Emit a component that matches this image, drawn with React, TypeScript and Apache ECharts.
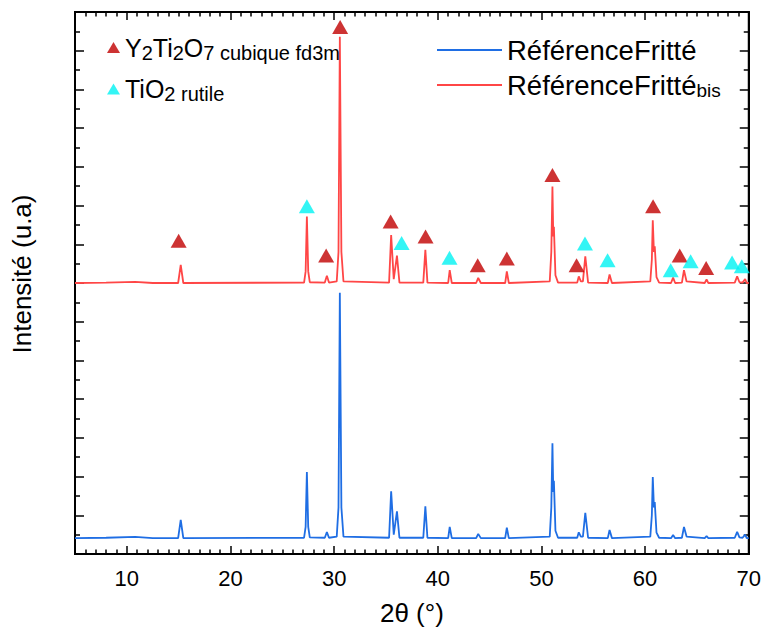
import React, { useEffect, useRef } from "react";
import * as echarts from "echarts";

// ---- Data ----
const xTickLabels = [10, 20, 30, 40, 50, 60, 70];

// 2θ / intensity points of the sintered reference (blue, lower trace)
const referenceFritte: [number, number][] = [
  [5, 0.41], [8, 0.42], [10.8, 0.44], [12.5, 0.41],
  [14.95, 0.41], [15.2, 0.88], [15.45, 0.41],
  [27.1, 0.42], [27.25, 0.7], [27.37, 2.12], [27.5, 0.7], [27.65, 0.43],
  [29.1, 0.42], [29.3, 0.57], [29.5, 0.42],
  [30.25, 0.45], [30.42, 1.2], [30.55, 6.75], [30.7, 1.2], [30.9, 0.45],
  [35.3, 0.42], [35.5, 1.62], [35.75, 0.5], [36.06, 1.1], [36.3, 0.42],
  [38.6, 0.42], [38.8, 1.23], [39.0, 0.42],
  [41.0, 0.41], [41.15, 0.7], [41.35, 0.41],
  [43.7, 0.41], [43.9, 0.52], [44.15, 0.41],
  [46.5, 0.41], [46.66, 0.68], [46.85, 0.41],
  [50.8, 0.45], [50.95, 1.2], [51.06, 2.86], [51.14, 1.6], [51.2, 1.89], [51.35, 0.6], [51.6, 0.42],
  [53.45, 0.42], [53.6, 0.56], [53.8, 0.45], [54.0, 0.45], [54.23, 1.06], [54.5, 0.42],
  [56.4, 0.41], [56.57, 0.62], [56.8, 0.41],
  [60.5, 0.45], [60.65, 1.0], [60.74, 1.99], [60.85, 1.2], [60.93, 1.34], [61.1, 0.55], [61.35, 0.42],
  [62.5, 0.41], [62.7, 0.49], [62.9, 0.41],
  [63.55, 0.42], [63.75, 0.7], [64.0, 0.45],
  [65.75, 0.41], [65.93, 0.46], [66.1, 0.41],
  [68.65, 0.42], [68.88, 0.57], [69.1, 0.43], [69.4, 0.42], [69.65, 0.5], [69.8, 0.41], [70, 0.41],
];

// second measurement (red, upper trace)
const referenceFritteBis: [number, number][] = [
  [5, 7.0], [8, 7.01], [10.8, 7.03], [12.5, 7.0],
  [14.95, 7.0], [15.2, 7.47], [15.45, 7.0],
  [27.1, 7.01], [27.25, 7.3], [27.37, 8.72], [27.5, 7.3], [27.65, 7.02],
  [29.1, 7.01], [29.3, 7.19], [29.5, 7.01],
  [30.25, 7.04], [30.42, 7.8], [30.55, 13.36], [30.7, 7.8], [30.9, 7.04],
  [35.3, 7.01], [35.5, 8.24], [35.75, 7.1], [36.06, 7.71], [36.3, 7.01],
  [38.6, 7.01], [38.8, 7.86], [39.0, 7.01],
  [41.0, 7.0], [41.15, 7.33], [41.35, 7.0],
  [43.7, 7.0], [43.9, 7.13], [44.15, 7.0],
  [46.5, 7.0], [46.66, 7.3], [46.85, 7.0],
  [50.8, 7.04], [50.95, 7.8], [51.06, 9.49], [51.14, 8.2], [51.2, 8.45], [51.35, 7.2], [51.6, 7.01],
  [53.45, 7.01], [53.6, 7.17], [53.8, 7.04], [54.0, 7.04], [54.23, 7.69], [54.5, 7.01],
  [56.4, 7.0], [56.57, 7.22], [56.8, 7.0],
  [60.5, 7.04], [60.65, 7.6], [60.74, 8.62], [60.85, 7.8], [60.93, 7.95], [61.1, 7.15], [61.35, 7.01],
  [62.5, 7.0], [62.7, 7.14], [62.9, 7.0],
  [63.55, 7.01], [63.75, 7.33], [64.0, 7.04],
  [65.75, 7.0], [65.93, 7.09], [66.1, 7.0],
  [68.65, 7.01], [68.88, 7.17], [69.1, 7.02], [69.4, 7.01], [69.65, 7.1], [69.8, 7.0], [70, 7.0],
];

// phase markers (triangles)
const y2ti2o7Markers: [number, number][] = [
  [15.0, 8.09], [29.23, 7.71], [30.58, 13.61], [35.45, 8.59], [38.82, 8.2], [43.85, 7.46],
  [46.66, 7.63], [51.06, 9.79], [53.39, 7.46], [60.77, 8.98], [63.34, 7.71], [65.89, 7.39],
];
const tio2Markers: [number, number][] = [
  [27.37, 8.98], [36.51, 8.03], [41.13, 7.65], [54.2, 8.02], [56.38, 7.59],
  [62.47, 7.33], [64.39, 7.56], [68.39, 7.53], [69.33, 7.43],
];

const FONT = "Liberation Sans";
const BLUE = "#1f6ee4";
const RED = "#ff4646";
const DARKRED = "#c00000";
const CYAN = "#00f2f2";

const N_Y2 = "Y2Ti2O7 cubique fd3m";
const N_TIO2 = "TiO2 rutile";
const N_REF = "RéférenceFritté";
const N_BIS = "RéférenceFrittébis";

export default function App() {
  const ref = useRef<HTMLDivElement>(null);
  useEffect(() => {
    document.body.style.margin = "0";
    const chart = echarts.init(ref.current!, null, { renderer: "svg" });
    const mkLine = () => ({ show: true, onZero: false, lineStyle: { color: "#000", width: 2 } });
    const mkX = () => ({
      type: "value" as const,
      min: 5,
      max: 70,
      splitNumber: 7,
      axisLine: mkLine(),
      splitLine: { show: false },
      axisTick: { show: true, inside: true, length: 8, lineStyle: { color: "#000", width: 1.5 } },
      minorTick: { show: true, splitNumber: 10, length: 4.5, lineStyle: { color: "#000", width: 1.5 } },
    });
    const mkY = () => ({
      type: "value" as const,
      min: 0,
      max: 14,
      interval: 1,
      axisLine: mkLine(),
      splitLine: { show: false },
      axisLabel: { show: false },
      axisTick: { show: true, inside: true, length: 9, lineStyle: { color: "#000", width: 1.5 } },
      minorTick: { show: true, splitNumber: 2, length: 5, lineStyle: { color: "#000", width: 1.5 } },
    });
    const main = { fontSize: 25, fontFamily: FONT, color: "#000", lineHeight: 30 };
    const sub = { fontSize: 20, fontFamily: FONT, color: "#000", lineHeight: 2, verticalAlign: "bottom" };
    chart.setOption({
      animation: false,
      backgroundColor: "#fff",
      grid: { left: 75, right: 14, top: 12, bottom: 83, show: true, borderColor: "#000", borderWidth: 2, backgroundColor: "transparent" },
      xAxis: [
        {
          ...mkX(),
          position: "bottom",
          name: "2θ (°)",
          nameLocation: "middle",
          nameGap: 46,
          nameTextStyle: { fontSize: 26, fontFamily: FONT, color: "#000" },
          axisLabel: {
            show: true,
            margin: 13,
            fontSize: 22,
            fontFamily: FONT,
            color: "#000",
            formatter: (v: number) => (xTickLabels.indexOf(v) >= 0 ? String(v) : ""),
          },
        },
        { ...mkX(), position: "top", axisLabel: { show: false } },
      ],
      yAxis: [
        {
          ...mkY(),
          position: "left",
          name: "Intensité (u.a)",
          nameLocation: "middle",
          nameGap: 40,
          nameRotate: 90,
          nameTextStyle: { fontSize: 26, fontFamily: FONT, color: "#000", padding: [0, 0, 0, 18] },
        },
        { ...mkY(), position: "right" },
      ],
      legend: [
        {
          data: [N_Y2, N_TIO2],
          orient: "vertical",
          left: 107,
          top: 35,
          padding: 0,
          icon: "triangle",
          itemWidth: 13,
          itemHeight: 11,
          itemGap: 14,
          selectedMode: false,
          formatter: (name: string) =>
            name === N_Y2
              ? "{m|Y}{s|2}{m|Ti}{s|2}{m|O}{s|7 cubique fd3m}"
              : "{m|TiO}{s|2 rutile}",
          textStyle: { rich: { m: main, s: sub } },
        },
        {
          data: [N_REF, N_BIS],
          orient: "vertical",
          left: 437,
          top: 36,
          padding: 0,
          icon: "rect",
          itemWidth: 65,
          itemHeight: 2,
          itemGap: 7,
          selectedMode: false,
          formatter: (name: string) =>
            name === N_BIS ? "{m|RéférenceFritté}{s|bis}" : "{m|RéférenceFritté}",
          textStyle: { rich: { m: { ...main, fontSize: 27.5 }, s: { ...sub, fontSize: 19 } } },
        },
      ],
      series: [
        {
          name: N_REF,
          type: "line",
          data: referenceFritte,
          showSymbol: false,
          symbol: "none",
          color: BLUE,
          lineStyle: { color: BLUE, width: 1.8 },
          z: 2,
        },
        {
          name: N_BIS,
          type: "line",
          data: referenceFritteBis,
          showSymbol: false,
          symbol: "none",
          color: RED,
          lineStyle: { color: RED, width: 1.8 },
          z: 2,
        },
        {
          name: N_Y2,
          type: "scatter",
          data: y2ti2o7Markers,
          symbol: "triangle",
          symbolSize: [16, 14],
          itemStyle: { color: DARKRED },
          z: 3,
        },
        {
          name: N_TIO2,
          type: "scatter",
          data: tio2Markers,
          symbol: "triangle",
          symbolSize: [16, 14],
          itemStyle: { color: CYAN },
          z: 3,
        },
      ],
    });
    return () => chart.dispose();
  }, []);
  return <div ref={ref} style={{ width: 764, height: 637 }} />;
}
